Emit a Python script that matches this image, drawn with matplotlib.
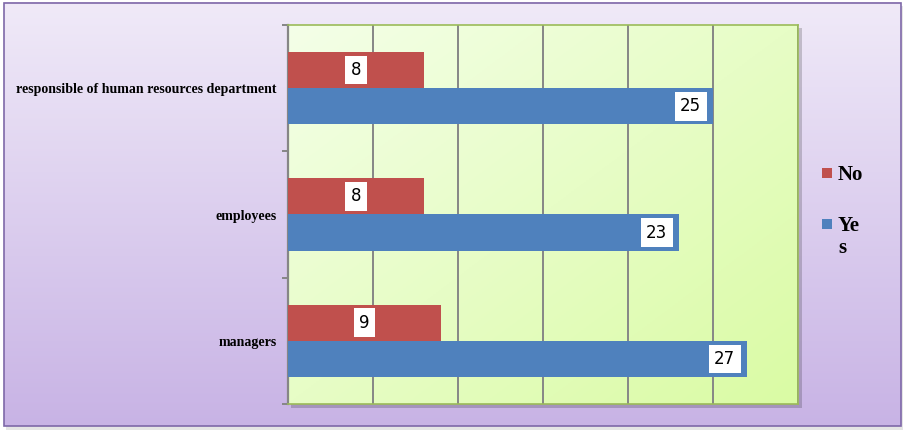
import numpy as np
import matplotlib
matplotlib.use('Agg')
import matplotlib.pyplot as plt
from matplotlib.patches import Rectangle
from matplotlib.colors import LinearSegmentedColormap

categories = ['managers', 'employees', 'responsible of human resources department']
no_values = [9, 8, 8]
yes_values = [27, 23, 25]
series = ['No', 'Yes']
legend_labels = ['No', 'Ye\ns']
colors = ['#C0504D', '#4F81BD']

W, H = 906, 436
fig = plt.figure(figsize=(W / 100, H / 100), dpi=100)

# background canvas in pixel coords
bg = fig.add_axes([0, 0, 1, 1])
bg.set_xlim(0, W)
bg.set_ylim(H, 0)
bg.axis('off')
bg.add_patch(Rectangle((6, 6), 897, 424, color='black', alpha=0.10, lw=0, zorder=0))
outer = LinearSegmentedColormap.from_list('outer', ['#F0EAF8', '#C8B3E5'])
bg.imshow(np.linspace(0, 1, 256).reshape(-1, 1), cmap=outer, extent=(4, 901, 426, 3),
          aspect='auto', zorder=1)
bg.add_patch(Rectangle((4, 3), 897, 423, fill=False, ec='#7E68A8', lw=1.2, zorder=2))
# plot area shadow
bg.add_patch(Rectangle((291, 28), 511, 380, color='black', alpha=0.18, lw=0, zorder=2))

# legend drawn by hand, like the original
leg_y = [173, 224]
for c, lab, yy in zip(colors, legend_labels, leg_y):
    bg.add_patch(Rectangle((822, yy - 5), 10, 10, color=c, lw=0, zorder=3))
    bg.text(838, yy - 8, lab, ha='left', va='top', fontsize=15, fontweight='bold',
            family='Liberation Serif', linespacing=1.15, zorder=3)

ax = fig.add_axes([288 / W, 1 - 404 / H, 510 / W, 379 / H])
ax.set_xlim(0, 30)
ax.set_ylim(-0.5, 2.5)

# diagonal gradient for plot area
n = 200
ii, jj = np.mgrid[0:n, 0:n]
inner = LinearSegmentedColormap.from_list('inner', ['#F4FFE8', '#DAFBA4'])
ax.imshow((ii + jj) / (2 * n - 2), cmap=inner, extent=(0, 30, -0.5, 2.5), aspect='auto',
          origin='upper', zorder=0)

y = np.arange(len(categories))
h = 0.286
ax.barh(y + h / 2, no_values, height=h, color=colors[0], zorder=3)
ax.barh(y - h / 2, yes_values, height=h, color=colors[1], zorder=3)

box = dict(fc='white', ec='none', pad=3.8)
for yi, v in zip(y, no_values):
    ax.text(v / 2, yi + h / 2, str(v), ha='center', va='center', fontsize=12, bbox=box, zorder=4)
for yi, v in zip(y, yes_values):
    ax.annotate(str(v), (v, yi - h / 2), xytext=(-8.5, 0), textcoords='offset points',
                ha='right', va='center', fontsize=12, bbox=box, zorder=4)

ax.set_xticks(range(0, 31, 5))
ax.set_xticklabels([])
ax.tick_params(axis='x', length=0)
ax.xaxis.grid(True, color='#868686', lw=1.4, zorder=1)
ax.set_axisbelow(True)

ax.set_yticks(y)
ax.set_yticklabels(categories, fontsize=10, fontweight='bold', family='Liberation Serif')
ax.set_yticks([-0.5, 0.5, 1.5, 2.5], minor=True)
ax.tick_params(axis='y', which='major', length=0, pad=8)
ax.tick_params(axis='y', which='minor', length=4, width=1.4, color='#868686')

ax.spines['left'].set_color('#868686')
ax.spines['left'].set_linewidth(1.6)
for s in ['top', 'right', 'bottom']:
    ax.spines[s].set_color('#9BBB59')
    ax.spines[s].set_linewidth(1.2)

fig.savefig('out.png', dpi=100)
